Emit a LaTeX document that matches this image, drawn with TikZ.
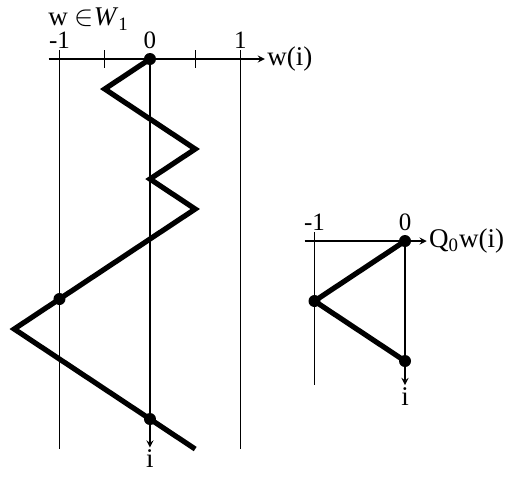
\documentclass[tikz,border=0pt]{standalone}
\usepackage{fontspec}
\setmainfont{Liberation Serif}
\begin{document}
\begin{tikzpicture}[x=45.25pt, y=-15pt, font=\fontsize{13.5}{15}\selectfont,
    walk/.style={line width=2.6pt},
    grid line/.style={line width=0.6pt},
    dot/.style={circle, fill=black, inner sep=0pt, minimum size=6pt}]
    \useasboundingbox (-1.657,-1.967) rectangle (3.945,14.0);

    % left: a walk w in W_1
    \node[anchor=west] (title) at (-1.2,-1.33) {w $\in$\textit{W}\textsubscript{1}};
    \draw[grid line, -stealth] (-1.12,0) -- (1.27,0) coordinate (xend);
    \node[anchor=west, inner sep=1pt] (wlabel) at (xend) {w(i)};
    \foreach \x in {-1,-0.5,0.5,1}
        \draw[grid line] (\x,-0.3) -- (\x,0.3);
    \foreach \x/\t in {-1/-1,0/0,1/1}
        \node[font=\fontsize{12.5}{14}\selectfont] (lab\t) at (\x,-0.62) {\t};
    \draw[grid line] (-1,0) -- (-1,13.0);
    \draw[grid line] (1,0) -- (1,13.0);
    \draw[grid line, -stealth] (0,0) -- (0,12.95) coordinate (iend);
    \node[anchor=north, inner sep=1pt] (ilabel) at (iend) {i};

    \coordinate (w0) at (0,0);
    \coordinate (w1) at (-0.5,1);
    \coordinate (w3) at (0.5,3);
    \coordinate (w4) at (0,4);
    \coordinate (w5) at (0.5,5);
    \coordinate (w8) at (-1,8);
    \coordinate (w9) at (-1.5,9);
    \coordinate (w12) at (0,12);
    \coordinate (w13) at (0.5,13);
    \draw[walk] (w0) -- (w1) -- (w3) -- (w4) -- (w5) -- (w8) -- (w9) -- (w12) -- (w13);
    \foreach \p in {w0,w8,w12}
        \node[dot] at (\p) {};

    % right: Q_0 w
    \begin{scope}[shift={(2.818,6.067)}]
        \draw[grid line, -stealth] (-1.11,0) -- (0.24,0) coordinate (qend);
        \node[anchor=west, inner sep=1pt] (qlabel) at (qend) {Q\textsubscript{0}w(i)};
        \node[font=\fontsize{12.5}{14}\selectfont] (qlabm) at (-1,-0.62) {-1};
        \node[font=\fontsize{12.5}{14}\selectfont] (qlab0) at (0,-0.62) {0};
        \draw[grid line] (-1,-0.3) -- (-1,4.8);
        \draw[grid line, -stealth] (0,0) -- (0,4.8) coordinate (qiend);
        \node[anchor=north, inner sep=1pt] (qilabel) at (qiend) {i};

        \coordinate (q0) at (0,0);
        \coordinate (q2) at (-1,2);
        \coordinate (q4) at (0,4);
        \draw[walk] (q0) -- (q2) -- (q4);
        \foreach \p in {q0,q2,q4}
            \node[dot] at (\p) {};
    \end{scope}
\end{tikzpicture}
\end{document}
